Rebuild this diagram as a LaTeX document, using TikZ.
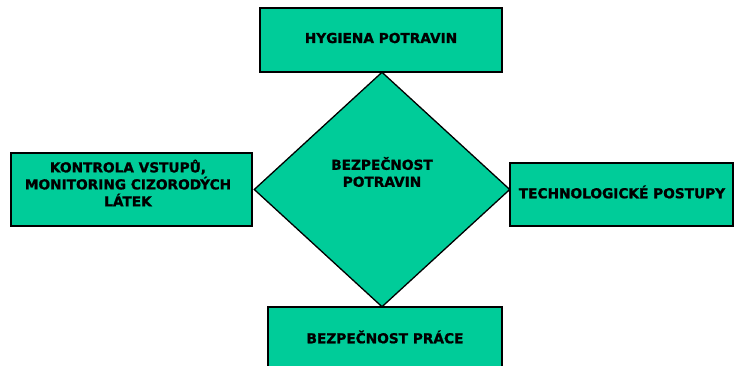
\documentclass[tikz,border=0pt]{standalone}
\usepackage{fontspec}
\setmainfont{DejaVu Sans}[BoldFont={DejaVu Sans Bold},BoldFeatures={FakeBold=1.2}]
\usetikzlibrary{shapes.geometric}
\definecolor{boxgreen}{HTML}{00CC99}
\tikzset{
  boxnode/.style={draw=black, line width=1.3pt, fill=boxgreen, rectangle, inner sep=0pt},
  labeltext/.style={font=\bfseries\fontsize{13.7}{17}\selectfont, align=center, text=black, inner sep=0pt},
}
\begin{document}
\begin{tikzpicture}[x=1pt,y=-1pt]
  \useasboundingbox (0,0) rectangle (734,365);
  \clip (0,0) rectangle (734,365);
  % four boxes around the central diamond
  \node[boxnode, minimum width=242pt, minimum height=64pt] (hyg) at (381,40) {};
  \node[boxnode, minimum width=241pt, minimum height=73pt] (kon) at (131.5,189.5) {};
  \node[boxnode, minimum width=223pt, minimum height=63pt] (tech) at (621.5,194.5) {};
  \node[boxnode, minimum width=234pt, minimum height=80pt] (bpr) at (385,347) {};
  % central diamond
  \node[draw=black, line width=1.3pt, fill=boxgreen, diamond, inner sep=0pt,
        minimum width=256pt, minimum height=235pt] (bez) at (382,189.5) {};
  % texts
  \node[labeltext] (thyg) at (381,38) {HYGIENA POTRAVIN};
  \node[labeltext] (tkon) at (128,183) {KONTROLA VSTUPŮ,\\MONITORING CIZORODÝCH\\LÁTEK};
  \node[labeltext] (ttech) at (622,192) {TECHNOLOGICKÉ POSTUPY};
  \node[labeltext] (tbpr) at (385,337) {BEZPEČNOST PRÁCE};
  \node[labeltext] (tbez) at (382,172) {BEZPEČNOST\\POTRAVIN};
\end{tikzpicture}
\end{document}
